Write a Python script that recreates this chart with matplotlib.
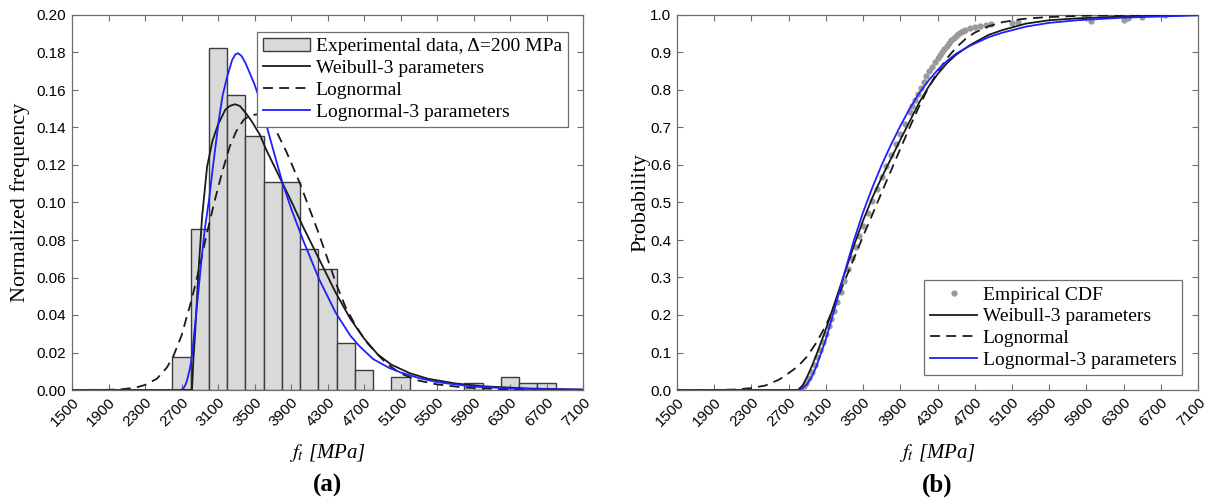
import matplotlib.pyplot as plt
import numpy as np

plt.rcParams['mathtext.fontset'] = 'stix'
plt.rcParams['font.family'] = 'Liberation Serif'

#----------------------------------------------------------histogram data (a)
bin_left = [2600, 2800, 3000, 3200, 3400, 3600, 3800, 4000, 4200, 4400, 4600,
            4800, 5000, 5200, 5400, 5600, 5800, 6000, 6200, 6400, 6600]
bin_count = [5, 24, 51, 44, 38, 31, 31, 21, 18, 7, 3,
             0, 2, 0, 0, 0, 1, 0, 2, 1, 1]
bin_width = 200

#------------------------------------------fitted pdf curves
weib_x = [1500, 2815, 2830, 2850, 2870, 2890, 2925, 2980, 3040, 3100, 3180, 3230,
          3284, 3340, 3400, 3474, 3560, 3630, 3720, 3800, 3900, 4030, 4210, 4390,
          4550, 4700, 4850, 5000, 5200, 5400, 5700, 6000, 6500, 7100]
weib_y = [0, 0, 0.016, 0.031, 0.049, 0.066, 0.092, 0.119, 0.133, 0.1415, 0.1495,
          0.1515, 0.1524, 0.1515, 0.148, 0.143, 0.136, 0.128, 0.119, 0.111, 0.101,
          0.0873, 0.0696, 0.0519, 0.038, 0.0275, 0.019, 0.0135, 0.009, 0.006,
          0.0035, 0.002, 0.0008, 0.0002]

logn_x = [1500, 1900, 2064, 2200, 2300, 2430, 2540, 2610, 2700, 2810, 2900, 2980,
          3064, 3150, 3230, 3300, 3380, 3450, 3530, 3610, 3680, 3750, 3850, 4000,
          4100, 4200, 4300, 4400, 4500, 4600, 4720, 4830, 4950, 5100, 5300, 5500,
          5800, 6200, 6600, 7100]
logn_y = [0, 0.0001, 0.0005, 0.0013, 0.0027, 0.006, 0.012, 0.018, 0.029, 0.048,
          0.066, 0.084, 0.101, 0.117, 0.130, 0.138, 0.144, 0.1465, 0.147, 0.1455,
          0.1425, 0.137, 0.127, 0.110, 0.097, 0.084, 0.070, 0.056, 0.044, 0.035,
          0.026, 0.0199, 0.014, 0.0088, 0.005, 0.003, 0.0013, 0.0004, 0.0001, 0]

logn3_x = [1500, 2690, 2715, 2736, 2755, 2773, 2790, 2809, 2845, 2882, 2918, 2955,
           3002, 3054, 3109, 3150, 3200, 3255, 3290, 3321, 3360, 3400, 3440, 3500,
           3550, 3600, 3660, 3740, 3810, 3900, 4030, 4210, 4390, 4550, 4650, 4800,
           4975, 5100, 5300, 5500, 5885, 6260, 6700, 7100]
logn3_y = [0, 0, 0.0006, 0.002, 0.0042, 0.0076, 0.011, 0.016, 0.033, 0.051, 0.069,
           0.0857, 0.1017, 0.1228, 0.144, 0.157, 0.167, 0.176, 0.179, 0.1796, 0.178,
           0.1745, 0.170, 0.163, 0.156, 0.147, 0.136, 0.122, 0.110, 0.097, 0.0802,
           0.0589, 0.0412, 0.029, 0.0234, 0.0165, 0.0118, 0.0094, 0.0064, 0.0042,
           0.0019, 0.0009, 0.0004, 0.0002]

#---------------------------------------------------cdf curves
cdf_x = [1500, 2800, 2850, 2900, 2950, 3000, 3100, 3200, 3300, 3400, 3500, 3600,
         3700, 3800, 3900, 4000, 4100, 4200, 4300, 4400, 4500, 4650, 4850, 5000,
         5250, 5500, 5800, 6300, 7100]
weib_cdf = [0, 0, 0.012, 0.036, 0.064, 0.095, 0.162, 0.236, 0.31, 0.384, 0.452,
            0.513, 0.567, 0.617, 0.667, 0.716, 0.765, 0.807, 0.842, 0.871, 0.894,
            0.92, 0.947, 0.96, 0.977, 0.986, 0.991, 0.996, 1.0]
logn3_cdf = [0, 0, 0.005, 0.016, 0.036, 0.064, 0.135, 0.222, 0.312, 0.398, 0.474,
             0.54, 0.6, 0.654, 0.704, 0.75, 0.79, 0.824, 0.853, 0.877, 0.897,
             0.918, 0.941, 0.953, 0.969, 0.979, 0.986, 0.993, 0.999]

logn_cdf_x = [1500, 1900, 2100, 2300, 2450, 2600, 2700, 2800, 2900, 3000, 3100,
              3200, 3300, 3400, 3500, 3600, 3700, 3800, 3900, 4000, 4100, 4200,
              4300, 4400, 4500, 4600, 4700, 4850, 5000, 5200, 5450, 5850, 6300, 7100]
logn_cdf = [0, 0.0002, 0.001, 0.005, 0.012, 0.028, 0.045, 0.063, 0.09, 0.127,
            0.172, 0.228, 0.29, 0.35, 0.41, 0.468, 0.527, 0.585, 0.643, 0.70,
            0.755, 0.805, 0.848, 0.884, 0.913, 0.936, 0.953, 0.97, 0.981, 0.989,
            0.994, 0.998, 0.9995, 1.0]

emp_x = [2830, 2860, 2890, 2920, 2950, 2980, 3010, 3040, 3070, 3100, 3130, 3160,
         3190, 3220, 3260, 3300, 3340, 3380, 3420, 3460, 3500, 3550, 3600, 3650,
         3700, 3750, 3800, 3850, 3900, 3950, 4000, 4030, 4060, 4090, 4120, 4150,
         4180, 4210, 4240, 4270, 4300, 4325, 4350, 4375, 4400, 4425, 4450, 4475,
         4500, 4525, 4550, 4575, 4600, 4650, 4700, 4760, 4820, 4880, 5100, 5160,
         5950, 6300, 6350, 6500, 6750]
emp_p = [0.004, 0.01, 0.02, 0.032, 0.048, 0.066, 0.088, 0.108, 0.128, 0.15, 0.17,
         0.19, 0.212, 0.234, 0.262, 0.292, 0.322, 0.352, 0.382, 0.41, 0.438, 0.472,
         0.505, 0.537, 0.568, 0.598, 0.627, 0.655, 0.683, 0.71, 0.74, 0.756,
         0.772, 0.788, 0.804, 0.82, 0.836, 0.85, 0.862, 0.874, 0.885, 0.894,
         0.902, 0.91, 0.918, 0.925, 0.932, 0.938, 0.944, 0.949, 0.954, 0.957,
         0.96, 0.964, 0.968, 0.971, 0.973, 0.975, 0.979, 0.982, 0.984, 0.987,
         0.991, 0.994, 1.0]

xticks = list(range(1500, 7101, 400))

#=====================================================================figure
W, H = 1214, 498
fig = plt.figure(figsize=(W / 100, H / 100), dpi=100)
ax1 = fig.add_axes([72 / W, 108 / H, 511 / W, 375 / H])
ax2 = fig.add_axes([677 / W, 108 / H, 521 / W, 375 / H])

frame = '#6e6e6e'
lw = 1.3
dash = (0, (5.5, 3.5))


def style_axes(ax, yticks, yfmt):
    ax.set_xlim(1500, 7100)
    ax.set_xticks(xticks)
    ax.set_xticklabels([str(t) for t in xticks], rotation=45, ha='right',
                       va='top', rotation_mode='anchor',
                       family='Liberation Sans', fontsize=11)
    ax.set_yticks(yticks)
    ax.set_yticklabels([yfmt % t for t in yticks], family='Liberation Sans',
                       fontsize=11)
    ax.tick_params(direction='in', length=4, width=0.8, color=frame,
                   top=True, right=True, pad=4)
    for s in ax.spines.values():
        s.set_color(frame)
        s.set_linewidth(0.9)


def make_legend(ax, order, loc, anchor):
    h, l = ax.get_legend_handles_labels()
    leg = ax.legend([h[i] for i in order], [l[i] for i in order], loc=loc,
                    bbox_to_anchor=anchor, fontsize=14, fancybox=False,
                    framealpha=1, edgecolor=frame, handlelength=2.4,
                    handletextpad=0.3, borderpad=0.3, labelspacing=0.22,
                    borderaxespad=0)
    leg.get_frame().set_linewidth(0.9)


#-------------------------------------------------------------------panel (a)
counts = np.array(bin_count, dtype=float)
freq = counts / counts.sum()
left = np.array(bin_left)
keep = counts > 0
ax1.bar(left[keep], freq[keep], width=bin_width, align='edge',
        facecolor='#d9d9d9', edgecolor='#3c3c3c', linewidth=1.0,
        label='Experimental data, \u0394=200 MPa', zorder=1)
ax1.plot(weib_x, weib_y, color='#1a1a1a', lw=lw, label='Weibull-3 parameters', zorder=3)
ax1.plot(logn_x, logn_y, color='#1a1a1a', lw=lw, linestyle=dash,
         label='Lognormal', zorder=3)
ax1.plot(logn3_x, logn3_y, color='#1f1fff', lw=lw,
         label='Lognormal-3 parameters', zorder=3)
ax1.set_ylim(0, 0.2)
style_axes(ax1, np.arange(0, 0.2001, 0.02), '%.2f')
ax1.set_ylabel('Normalized frequency', fontsize=16)
ax1.yaxis.set_label_coords(-0.082, 0.5)
ax1.set_xlabel(r'$f_t$ [MPa]', fontsize=15, fontstyle='italic')
ax1.xaxis.set_label_coords(0.5, -0.138)
make_legend(ax1, [3, 0, 1, 2], 'upper right', (0.97, 0.955))

#-------------------------------------------------------------------panel (b)
ax2.plot(emp_x, emp_p, linestyle='none', marker='o', markersize=3.5,
         color='#9a9a9a', label='Empirical CDF', zorder=2)
ax2.plot(cdf_x, weib_cdf, color='#1a1a1a', lw=lw, label='Weibull-3 parameters', zorder=3)
ax2.plot(logn_cdf_x, logn_cdf, color='#1a1a1a', lw=lw, linestyle=dash,
         label='Lognormal', zorder=3)
ax2.plot(cdf_x, logn3_cdf, color='#1f1fff', lw=lw,
         label='Lognormal-3 parameters', zorder=3)
ax2.set_ylim(0, 1.0)
style_axes(ax2, np.arange(0, 1.001, 0.1), '%.1f')
ax2.set_ylabel('Probability', fontsize=16)
ax2.yaxis.set_label_coords(-0.052, 0.5)
ax2.set_xlabel(r'$f_t$ [MPa]', fontsize=15, fontstyle='italic')
ax2.xaxis.set_label_coords(0.5, -0.138)
make_legend(ax2, [0, 1, 2, 3], 'lower right', (0.97, 0.04))

#---------------------------------------------------------------panel letters
fig.text((72 + 583) / 2 / W, 13 / H, '(a)', ha='center', va='center',
         fontsize=18, fontweight='bold')
fig.text((677 + 1198) / 2 / W, 13 / H, '(b)', ha='center', va='center',
         fontsize=18, fontweight='bold')

fig.savefig('out.png', dpi=100)
